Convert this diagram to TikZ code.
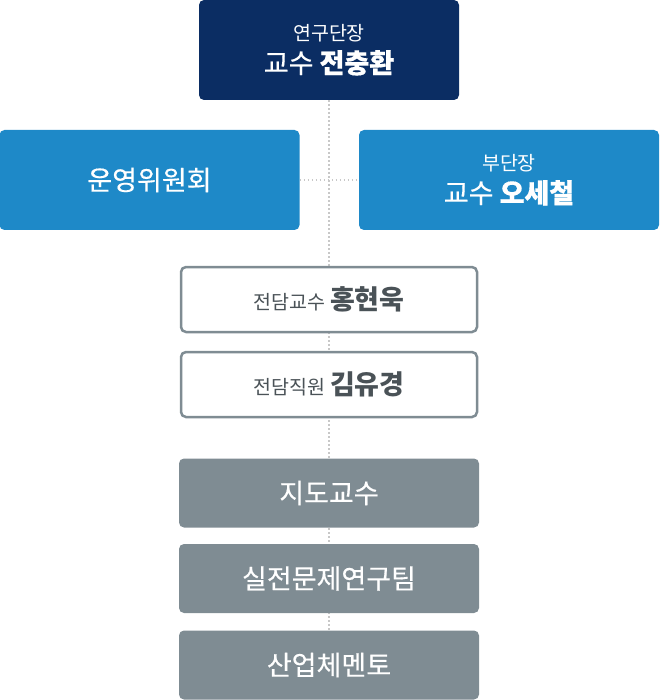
\documentclass[tikz,border=0pt]{standalone}
\usepackage{fontspec}
\setmainfont{Noto Sans CJK KR}
\newfontfamily\medfont[FakeBold=0.4]{Noto Sans CJK KR}
\usetikzlibrary{backgrounds}
\definecolor{navy}{HTML}{0B2D63}
\definecolor{skyblue}{HTML}{1E89C8}
\definecolor{slate}{HTML}{7F8C93}
\definecolor{ink}{HTML}{4A5257}
\definecolor{dotgray}{HTML}{C8C8C8}
\newcommand{\smallsz}{\fontsize{19.5}{22}\selectfont}
\newcommand{\bigsz}{\fontsize{27}{30}\selectfont}

\begin{document}
\begin{tikzpicture}[x=1pt,y=-1pt,
  box/.style={rounded corners=5pt,inner sep=0pt,align=center},
  headbox/.style={box,fill=navy,text=white,minimum width=260pt,minimum height=100pt},
  sidebox/.style={box,fill=skyblue,text=white,minimum width=300pt,minimum height=100pt},
  staffbox/.style={box,draw=slate,line width=2.5pt,fill=white,text=ink,minimum width=296pt,minimum height=65pt},
  groupbox/.style={box,fill=slate,text=white,minimum width=300pt,minimum height=69pt},
  link/.style={draw=dotgray,line width=1.5pt,dash pattern=on 1.5pt off 2.5pt}]
\useasboundingbox (0,0) rectangle (659,700);

% top
\node[headbox] (head) at (329,50) {{\smallsz 연구단장}\\[7pt]{\bigsz\medfont 교수 \textbf{전충환}}};

% second row
\node[sidebox] (board) at (149.5,180) {\bigsz\medfont 운영위원회};
\node[sidebox] (deputy) at (509,180) {{\smallsz 부단장}\\[7pt]{\bigsz\medfont 교수 \textbf{오세철}}};

% staff
\node[staffbox] (prof) at (329,299.5) {{\smallsz 전담교수}\hspace{5pt}{\bigsz\bfseries 홍현욱}};
\node[staffbox] (clerk) at (329,384.5) {{\smallsz 전담직원}\hspace{5pt}{\bigsz\bfseries 김유경}};

% groups
\node[groupbox] (advisors) at (329,493) {\bigsz\medfont 지도교수};
\node[groupbox] (team) at (329,578.5) {\bigsz\medfont 실전문제연구팀};
\node[groupbox] (mentors) at (329,665) {\bigsz\medfont 산업체멘토};

\begin{scope}[on background layer]
\draw[link] (head.south) -- (mentors.north);
\draw[link] (board.east) -- (deputy.west);
\end{scope}
\end{tikzpicture}
\end{document}
